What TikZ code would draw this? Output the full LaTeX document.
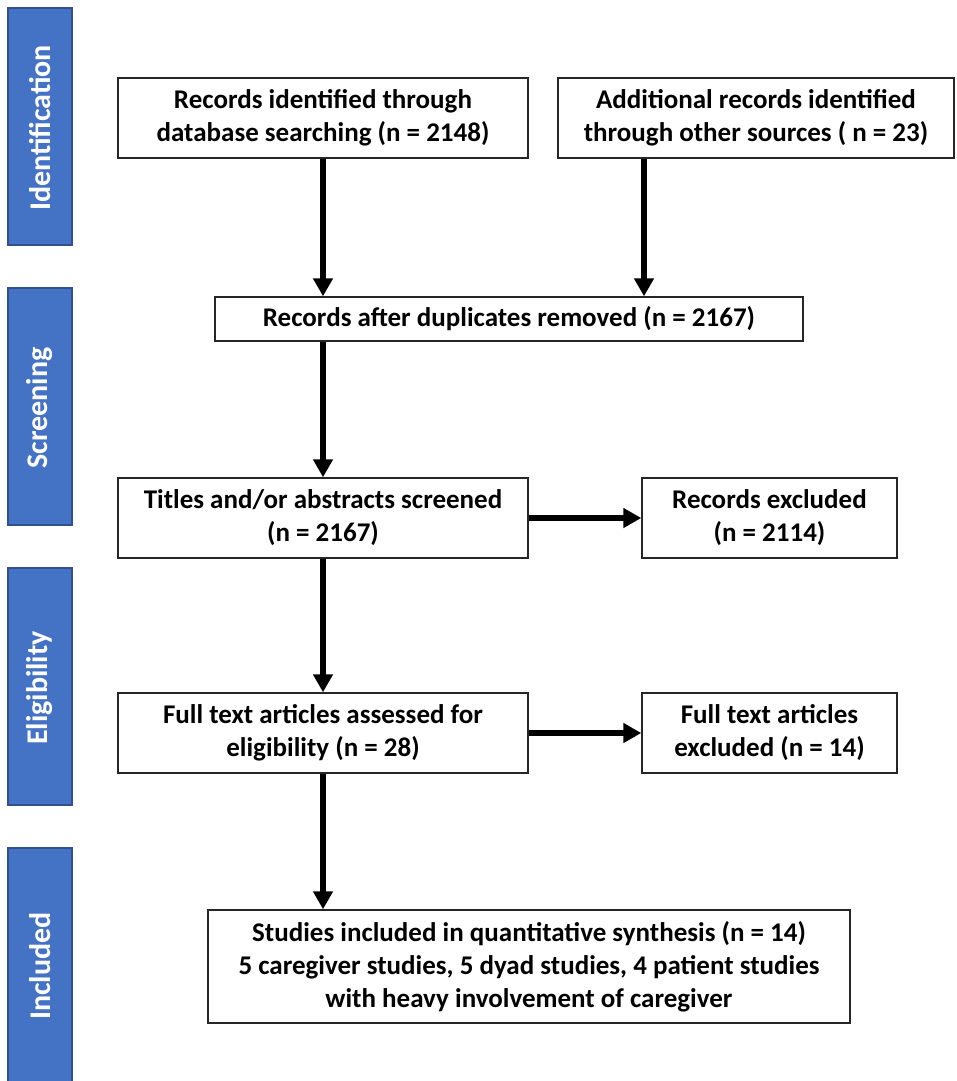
\documentclass[tikz,border=0pt]{standalone}
\usepackage{fontspec}
\setmainfont{Carlito}
\usetikzlibrary{arrows.meta}
\definecolor{barblue}{HTML}{4472C4}
\definecolor{barline}{HTML}{2F528F}
\begin{document}
\begin{tikzpicture}[x=1pt,y=-1pt,
  box/.style={draw=black!85, line width=1.4pt, fill=white, align=center,
    font=\fontsize{27}{33}\selectfont\bfseries, inner sep=0pt},
  bar/.style={draw=barline, line width=1.2pt, fill=barblue, inner sep=0pt},
  barlabel/.style={text=white, rotate=90, font=\fontsize{30}{36}\selectfont\bfseries},
  flow/.style={line width=6pt, -{Triangle[length=18pt,width=19pt]}}]
\useasboundingbox (0,0) rectangle (956,1081);
% side bars
\node[bar, minimum width=64pt, minimum height=237pt] (bid) at (40,126.5) {};
\node[barlabel] (lid) at (40,128) {Identification};
\node[bar, minimum width=64pt, minimum height=237pt] (bsc) at (40,406.5) {};
\node[barlabel] (lsc) at (40,408) {Screening};
\node[bar, minimum width=64pt, minimum height=237pt] (bel) at (40,686.5) {};
\node[barlabel] (lel) at (40,688) {Eligibility};
\node[bar, minimum width=64pt, minimum height=240pt] (bin) at (40,968) {};
\node[barlabel] (lin) at (40,966) {Included};
% boxes
\node[box, minimum width=410pt, minimum height=80pt] (b1) at (323,118) {Records identified through\\database searching (n = 2148)};
\node[box, minimum width=396pt, minimum height=80pt] (b2) at (756,118) {Additional records identified\\through other sources ( n = 23)};
\node[box, minimum width=588pt, minimum height=44pt] (b3) at (509,319) {Records after duplicates removed (n = 2167)};
\node[box, minimum width=410pt, minimum height=80pt] (b4) at (323,518) {Titles and/or abstracts screened\\(n = 2167)};
\node[box, minimum width=255pt, minimum height=80pt] (b5) at (769.5,518) {Records excluded\\(n = 2114)};
\node[box, minimum width=410pt, minimum height=80pt] (b6) at (323,733) {Full text articles assessed for\\eligibility (n = 28)};
\node[box, minimum width=255pt, minimum height=80pt] (b7) at (769.5,733) {Full text articles\\excluded (n = 14)};
\node[box, minimum width=642pt, minimum height=113pt] (b8) at (529,966.5) {Studies included in quantitative synthesis (n = 14)\\5 caregiver studies, 5 dyad studies, 4 patient studies\\with heavy involvement of caregiver};
% connector anchors for the right-hand arrow
\coordinate (r2) at (644,0);
% connectors
\draw[flow] (b1.south) -- (b3.north -| b1.south);
\draw[flow] (b2.south -| r2) -- (b3.north -| r2);
\draw[flow] (b3.south -| b1.south) -- (b4.north);
\draw[flow] (b4.south) -- (b6.north);
\draw[flow] (b6.south) -- (b8.north -| b6.south);
\draw[flow] (b4.east) -- (b5.west);
\draw[flow] (b6.east) -- (b7.west);
\end{tikzpicture}
\end{document}
